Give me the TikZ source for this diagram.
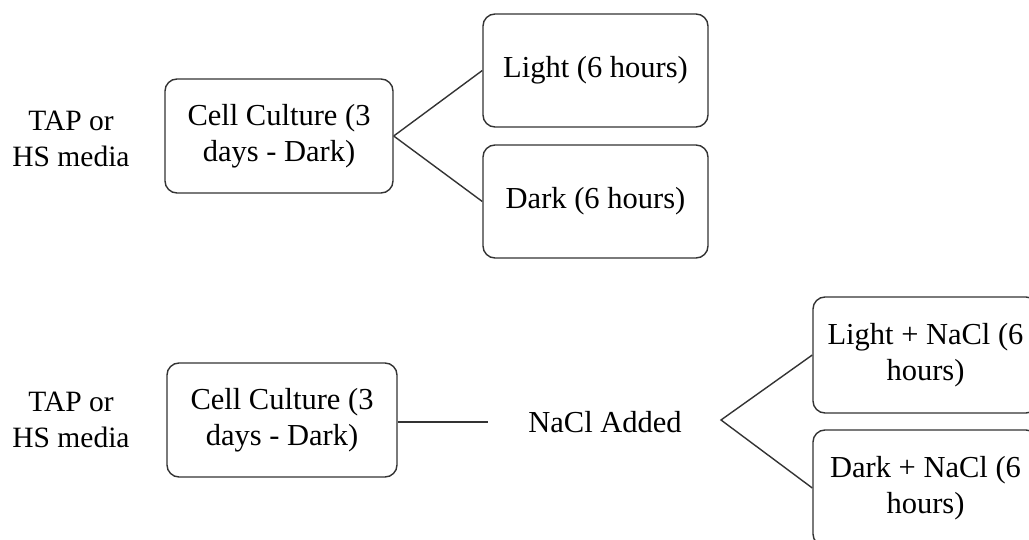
\documentclass[tikz,border=0pt]{standalone}
\usepackage{fontspec}
\setmainfont{Liberation Serif}
\begin{document}
\begin{tikzpicture}[x=1pt,y=-1pt,
  every node/.style={font=\fontsize{30.5}{36}\selectfont, text=black},
  box/.style={draw=black!80, line width=1.4pt, rounded corners=12pt, rectangle, align=center, inner sep=0pt},
  conn/.style={draw=black!80, line width=1.4pt},
  lbl/.style={align=center, inner sep=0pt}]
\useasboundingbox (0,0) rectangle (1029,540);
\clip (0,0) rectangle (1029,540);
% top row
\node[lbl, font=\fontsize{29.5}{36}\selectfont] (tap1) at (71,139) {TAP or\\HS media};
\node[box, minimum width=228pt, minimum height=114pt] (cc1) at (279,136) {Cell Culture (3\\days - Dark)};
\node[box, minimum width=225pt, minimum height=113pt] (light) at (595.5,70.5) {Light (6 hours)};
\node[box, minimum width=225pt, minimum height=113pt] (dark) at (595.5,201.5) {Dark (6 hours)};
\draw[conn] (cc1.east) -- (light.west);
\draw[conn] (cc1.east) -- (dark.west);
% bottom row
\node[lbl, font=\fontsize{29.5}{36}\selectfont] (tap2) at (71,420) {TAP or\\HS media};
\node[box, minimum width=230pt, minimum height=114pt] (cc2) at (282,420) {Cell Culture (3\\days - Dark)};
\coordinate (lineend) at (488,422);
\node[lbl] (nacl) at (605,422) {NaCl Added};
\coordinate (apex) at (721,420);
\node[box, minimum width=225pt, minimum height=116pt] (lightn) at (925.5,355) {Light + NaCl (6\\hours)};
\node[box, minimum width=225pt, minimum height=116pt] (darkn) at (925.5,488) {Dark + NaCl (6\\hours)};
\draw[conn] (cc2.east |- lineend) -- (lineend);
\draw[conn] (lightn.west) -- (apex) -- (darkn.west);
\end{tikzpicture}
\end{document}
